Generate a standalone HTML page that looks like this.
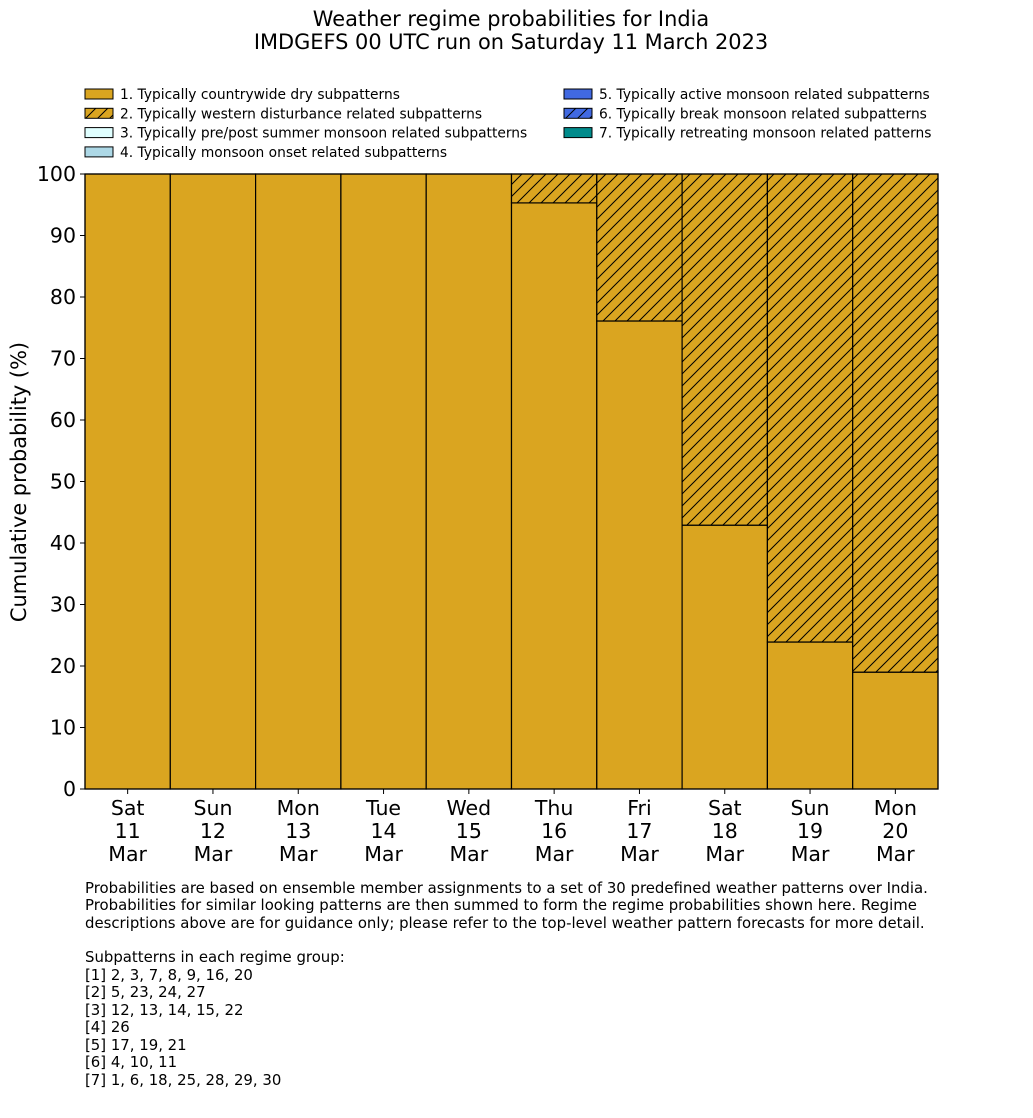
<!DOCTYPE html>
<html><head><meta charset="utf-8"><style>
body{margin:0;background:#fff;font-family:"DejaVu Sans","Liberation Sans",sans-serif}
svg text{font-family:"DejaVu Sans","Liberation Sans",sans-serif}
</style></head><body>
<svg id="chart" width="1033" height="1114" xmlns="http://www.w3.org/2000/svg">
<defs>
<pattern id="hatch" patternUnits="userSpaceOnUse" width="12" height="12">
<rect width="12" height="12" fill="#daa520"/>
<path d="M-3,3 L3,-3 M0,12 L12,0 M9,15 L15,9" stroke="#000" stroke-width="1"/>
</pattern>
<pattern id="hatchb" patternUnits="userSpaceOnUse" width="12" height="12">
<rect width="12" height="12" fill="#4169e1"/>
<path d="M-3,3 L3,-3 M0,12 L12,0 M9,15 L15,9" stroke="#000" stroke-width="1"/>
</pattern>
</defs>
<text x="511" y="26" font-size="20.9" text-anchor="middle">Weather regime probabilities for India</text>
<text x="511" y="49" font-size="20.9" text-anchor="middle">IMDGEFS 00 UTC run on Saturday 11 March 2023</text>
<g id="legend" font-size="13.8"></g>
<g id="bars"></g>
<g id="axes"></g>
<text transform="translate(26,482) rotate(-90)" font-size="20.9" text-anchor="middle">Cumulative probability (%)</text>
<g font-size="14.9">
<text x="85" y="893">Probabilities are based on ensemble member assignments to a set of 30 predefined weather patterns over India.</text>
<text x="85" y="910">Probabilities for similar looking patterns are then summed to form the regime probabilities shown here. Regime</text>
<text x="85" y="928">descriptions above are for guidance only; please refer to the top-level weather pattern forecasts for more detail.</text>
<text x="85" y="962">Subpatterns in each regime group:</text>
<text x="85" y="980">[1] 2, 3, 7, 8, 9, 16, 20</text>
<text x="85" y="997">[2] 5, 23, 24, 27</text>
<text x="85" y="1015">[3] 12, 13, 14, 15, 22</text>
<text x="85" y="1032">[4] 26</text>
<text x="85" y="1050">[5] 17, 19, 21</text>
<text x="85" y="1067">[6] 4, 10, 11</text>
<text x="85" y="1085">[7] 1, 6, 18, 25, 28, 29, 30</text>
</g>
</svg>
<script>
const days=["Sat","Sun","Mon","Tue","Wed","Thu","Fri","Sat","Sun","Mon"];
const dates=["11","12","13","14","15","16","17","18","19","20"];
const dry=[100,100,100,100,100,95.3,76.1,42.9,23.9,19.0];
const wd=[0,0,0,0,0,4.7,23.9,57.1,76.1,81.0];
const yTicks=[0,10,20,30,40,50,60,70,80,90,100];
const legendLabels=["1. Typically countrywide dry subpatterns","2. Typically western disturbance related subpatterns","3. Typically pre/post summer monsoon related subpatterns","4. Typically monsoon onset related subpatterns","5. Typically active monsoon related subpatterns","6. Typically break monsoon related subpatterns","7. Typically retreating monsoon related patterns"];
const legendFills=["#daa520","url(#hatch)","#e0ffff","#add8e6","#4169e1","url(#hatchb)","#008b8b"];
const NS="http://www.w3.org/2000/svg";
const X0=85,X1=938,Y0=789,Y1=174;
const bw=(X1-X0)/days.length;
const y=v=>Y0-(v/100)*(Y0-Y1);
const x=i=>X0+i*bw;
function mk(t,a,p){const e=document.createElementNS(NS,t);for(const k in a)e.setAttribute(k,a[k]);p.appendChild(e);return e;}
const bars=document.getElementById('bars'),axes=document.getElementById('axes'),leg=document.getElementById('legend');
days.forEach((d,i)=>{
 const r=mk('rect',{x:x(i),y:y(dry[i]),width:bw,height:y(0)-y(dry[i]),fill:'#daa520',stroke:'#000','stroke-width':1.2},bars);
 
 
 if(wd[i]>0){
  const h=mk('rect',{x:x(i),y:y(dry[i]+wd[i]),width:bw,height:y(dry[i])-y(dry[i]+wd[i]),fill:'url(#hatch)',stroke:'#000','stroke-width':1.2},bars);
  
  
 }
 const cx=x(i)+bw/2;
 [d,dates[i],"Mar"].forEach((s,k)=>{
  const t=mk('text',{x:cx,y:815+k*23,'font-size':20.5,'text-anchor':'middle'},axes);t.textContent=s;
  
  
 });
 mk('line',{x1:cx,x2:cx,y1:Y0,y2:Y0+5,stroke:'#000'},axes);
});
mk('rect',{x:X0,y:Y1,width:X1-X0,height:Y0-Y1,fill:'none',stroke:'#000','stroke-width':1.2},axes);
yTicks.forEach(v=>{
 mk('line',{x1:X0-5,x2:X0,y1:y(v),y2:y(v),stroke:'#000'},axes);
 const t=mk('text',{x:X0-9,y:y(v)+7,'font-size':20.5,'text-anchor':'end'},axes);t.textContent=v;
 
 
});
legendLabels.forEach((l,i)=>{
 const col=i<4?0:1,row=i<4?i:i-4;
 const lx=col?564:85,ly=89+row*19.3;
 const g=mk('g',{},leg);
 
 
 mk('rect',{x:lx,y:ly,width:28,height:10,fill:legendFills[i],stroke:'#000'},g);
 const t=mk('text',{x:lx+35,y:ly+10},g);t.textContent=l;
});
</script>
</body></html>
